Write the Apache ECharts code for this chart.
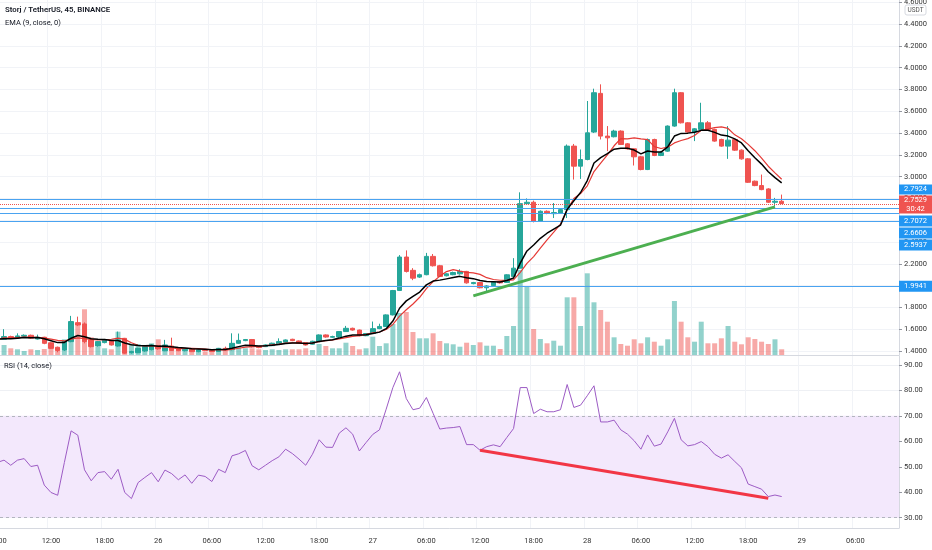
<!DOCTYPE html>
<html><head><meta charset="utf-8">
<script src="https://cdn.jsdelivr.net/npm/echarts@6/dist/echarts.min.js"></script>
<style>html,body{margin:0;padding:0;background:#fff}#c{width:932px;height:550px}</style>
</head><body><div id="c"></div>
<script>
// ---- data (45-minute candles, first candle = 25th 06:00) ----
const opens = [1.486,1.507,1.532,1.518,1.535,1.544,1.510,1.526,1.475,1.434,1.409,1.486,1.660,1.648,1.501,1.446,1.477,1.495,1.446,1.516,
1.384,1.384,1.400,1.412,1.450,1.402,1.445,1.424,1.403,1.415,1.394,1.410,1.405,1.395,1.424,1.412,1.470,1.495,1.505,1.440,
1.440,1.449,1.464,1.480,1.507,1.492,1.477,1.462,1.486,1.547,1.526,1.528,1.578,1.608,1.592,1.540,1.560,1.605,1.624,1.731,
1.955,2.262,2.140,2.078,2.100,2.268,2.182,2.090,2.100,2.108,2.130,2.018,2.028,1.980,2.000,2.035,2.029,2.084,2.160,2.752,
2.765,2.590,2.682,2.660,2.666,2.697,3.280,3.096,3.157,3.409,3.764,3.372,3.366,3.418,3.301,3.255,3.182,3.065,3.341,3.194,
3.234,3.464,3.770,3.494,3.409,3.433,3.494,3.433,3.341,3.280,3.341,3.243,3.163,2.958,2.918,2.887,2.765,2.774];
const closes = [1.507,1.532,1.516,1.538,1.544,1.518,1.526,1.470,1.424,1.405,1.486,1.670,1.639,1.486,1.440,1.486,1.501,1.455,1.501,1.380,
1.394,1.424,1.440,1.455,1.420,1.455,1.405,1.403,1.415,1.394,1.410,1.405,1.395,1.424,1.415,1.470,1.497,1.505,1.438,1.431,
1.455,1.471,1.486,1.501,1.495,1.471,1.455,1.489,1.547,1.528,1.532,1.578,1.608,1.592,1.540,1.560,1.605,1.625,1.731,1.955,
2.262,2.130,2.068,2.100,2.268,2.182,2.084,2.108,2.120,2.130,2.025,2.028,1.980,1.997,2.030,2.025,2.099,2.160,2.752,2.765,
2.590,2.682,2.666,2.670,2.697,3.280,3.096,3.157,3.402,3.770,3.372,3.356,3.418,3.295,3.255,3.182,3.065,3.341,3.194,3.220,
3.464,3.770,3.494,3.409,3.439,3.494,3.433,3.326,3.280,3.335,3.243,3.163,2.948,2.918,2.881,2.765,2.774,2.7529];
const lows = [1.480,1.505,1.510,1.515,1.530,1.512,1.505,1.462,1.418,1.388,1.400,1.480,1.628,1.470,1.432,1.440,1.470,1.450,1.440,1.375,
1.376,1.380,1.392,1.405,1.412,1.398,1.400,1.398,1.396,1.390,1.388,1.398,1.390,1.392,1.408,1.406,1.465,1.490,1.432,1.425,
1.436,1.445,1.460,1.476,1.490,1.466,1.450,1.458,1.482,1.522,1.520,1.524,1.574,1.586,1.535,1.536,1.556,1.600,1.620,1.726,
1.950,2.120,2.050,2.070,2.095,2.175,2.078,2.085,2.095,2.100,2.018,2.012,1.975,1.946,1.995,2.018,2.024,2.080,2.155,2.740,
2.580,2.585,2.655,2.620,2.660,2.620,2.973,2.979,3.150,3.400,3.341,3.234,3.360,3.290,3.248,3.102,3.058,3.060,3.188,3.188,
3.228,3.458,3.488,3.402,3.326,3.428,3.426,3.320,3.274,3.163,3.236,3.156,2.942,2.912,2.875,2.758,2.728,2.748];
const highs = [1.515,1.600,1.540,1.562,1.552,1.550,1.550,1.530,1.480,1.440,1.490,1.722,1.715,1.662,1.508,1.492,1.510,1.502,1.578,1.520,
1.402,1.430,1.446,1.460,1.455,1.502,1.522,1.428,1.420,1.418,1.414,1.416,1.410,1.428,1.440,1.562,1.560,1.510,1.510,1.445,
1.460,1.476,1.516,1.506,1.512,1.496,1.480,1.494,1.552,1.552,1.540,1.582,1.630,1.614,1.596,1.565,1.670,1.650,1.736,1.960,
2.280,2.323,2.160,2.110,2.300,2.290,2.190,2.115,2.128,2.150,2.135,2.034,2.034,2.004,2.036,2.040,2.104,2.252,2.856,2.800,
2.780,2.690,2.690,2.758,2.705,3.295,3.300,3.249,3.694,3.807,3.847,3.464,3.430,3.425,3.308,3.262,3.190,3.350,3.348,3.236,
3.470,3.807,3.776,3.500,3.446,3.678,3.510,3.440,3.348,3.464,3.348,3.250,3.170,2.964,3.019,2.894,2.805,2.835];
const volumes = [20.0,20.0,13.4,11.4,8.0,11.4,10.0,12.0,16.6,13.4,31.4,66.0,62.0,91.4,35.4,16.6,13.4,11.4,46.6,31.4,
22.0,22.0,20.0,23.4,31.4,20.0,16.6,11.4,8.0,7.0,8.0,7.0,9.0,10.0,10.0,23.4,16.6,13.4,13.4,11.4,
10.0,11.4,10.0,11.4,11.4,11.4,13.4,10.0,22.0,18.0,13.4,13.4,24.6,18.0,11.4,13.4,36.6,18.0,23.4,62.0,
84.0,86.0,46.0,33.4,33.4,43.4,28.0,23.4,21.4,16.6,24.6,20.0,25.4,18.6,18.6,12.0,38.0,58.0,170.0,136.0,
52.0,32.0,23.4,28.6,18.6,115.4,115.4,58.0,163.4,105.4,90.0,66.6,35.4,22.0,18.6,31.4,23.4,35.4,26.6,18.6,
31.4,108.0,66.6,35.4,26.6,66.6,23.4,23.4,33.4,58.0,26.6,21.4,35.4,32.0,26.6,22.0,31.4,11.4]; // thousand STORJ
const rsi = [51.7,52.6,50.6,52.6,53.2,50.1,50.6,42.8,39.9,38.8,51.7,64.1,62.4,48.8,44.5,47.7,48.1,45.1,49.0,39.9,
37.5,43.8,45.8,47.7,44.1,48.7,47.3,44.9,46.8,43.5,46.7,46.2,44.2,49.0,47.7,54.3,55.1,56.4,50.4,48.8,
50.6,52.4,53.9,56.9,55.2,53.0,50.6,54.9,60.6,57.7,57.6,63.2,65.3,62.8,56.2,59.5,62.7,64.5,72.6,81.1,
87.3,76.8,72.4,73.0,77.2,71.0,64.8,65.2,65.4,65.8,58.7,58.7,56.5,57.9,58.6,57.9,61.5,65.0,81.1,81.1,
70.9,72.6,71.6,71.6,72.4,82.3,73.3,74.2,77.9,81.8,67.6,67.6,68.3,64.5,62.8,60.2,56.9,62.5,58.1,58.9,
63.7,69.0,60.6,58.2,58.7,59.9,57.9,54.9,53.4,54.7,52.1,49.6,43.2,42.2,41.2,38.3,38.9,38.3];
const hLines = [2.7924, 2.7072, 2.6606, 2.5937, 1.9941];
const lastPrice = 2.7529;
const countdown = '30:42';
const priceTrend = [[71, 1.906], [116, 2.722]];
const rsiTrend = [[72, 56.5], [115, 37.6]];
const priceTicks = [1.4,1.6,1.8,2.0,2.2,2.4,2.6,2.8,3.0,3.2,3.4,3.6,3.8,4.0,4.2,4.4,4.6];
const rsiTicks = [30,40,50,60,70,80,90];
const emaLen = 9, smaLen = 9;
const slotCount = 135; // candles + empty future space
const startDay = 25, startMin = 6 * 60, stepMin = 45;

// ---- derived ----
const pad = n => (n < 10 ? '0' : '') + n;
const categories = [];
for (let i = 0; i < slotCount; i++) {
  const m = startMin + stepMin * i, d = startDay + Math.floor(m / 1440), mm = m % 1440;
  categories.push(mm === 0 ? String(d) : pad(Math.floor(mm / 60)) + ':' + pad(mm % 60));
}
const isTick = (idx) => ((startMin + stepMin * idx) % 360) === 0;
const candles = opens.map((o, i) => [o, closes[i], lows[i], highs[i]]);
const ema = []; const k = 2 / (emaLen + 1);
closes.forEach((c, i) => ema.push(i === 0 ? c : +(c * k + ema[i - 1] * (1 - k)).toFixed(4)));
const sma = closes.map((c, i) => { const s = closes.slice(Math.max(0, i - smaLen + 1), i + 1); return +(s.reduce((a, b) => a + b, 0) / s.length).toFixed(4); });
const UP = '#26a69a', DOWN = '#ef5350';
const volData = volumes.map((v, i) => ({ value: v, itemStyle: { color: closes[i] >= opens[i] ? 'rgba(38,166,154,0.5)' : 'rgba(239,83,80,0.5)' } }));

const chart = echarts.init(document.getElementById('c'));
const FONT = 'Roboto';
const option = {
  animation: false,
  backgroundColor: '#ffffff',
  textStyle: { fontFamily: FONT },
  grid: [
    { left: -6, right: 33, top: 0, height: 355, outerBoundsMode: 'none', containLabel: false },
    { left: -6, right: 33, top: 356, bottom: 22, outerBoundsMode: 'none', containLabel: false }
  ],
  xAxis: [
    { type: 'category', gridIndex: 0, data: categories, boundaryGap: true,
      axisLine: { show: true, lineStyle: { color: '#d6d9e0' } }, axisTick: { show: false }, axisLabel: { show: false },
      splitLine: { show: true, interval: isTick, lineStyle: { color: '#f1f3f7' } } },
    { type: 'category', gridIndex: 1, data: categories, boundaryGap: true,
      axisLine: { show: true, lineStyle: { color: '#d6d9e0' } }, axisTick: { show: false },
      axisLabel: { interval: isTick, color: '#333', fontSize: 7.5, margin: 9, fontFamily: FONT, hideOverlap: false },
      splitLine: { show: true, interval: isTick, lineStyle: { color: '#f1f3f7' } } }
  ],
  yAxis: [
    { type: 'value', gridIndex: 0, position: 'right', min: 1.363, max: 4.621, scale: true,
      axisLine: { show: true, lineStyle: { color: '#d6d9e0' } },
      axisTick: { show: true, length: 3, customValues: priceTicks, lineStyle: { color: '#9598a1' } },
      axisLabel: { customValues: priceTicks, formatter: v => v.toFixed(4), color: '#333', fontSize: 7.5, margin: 5, fontFamily: FONT },
      splitLine: { show: true, lineStyle: { color: '#f1f3f7' } } },
    { type: 'value', gridIndex: 0, min: 0, max: 710, show: false, splitLine: { show: false } },
    { type: 'value', gridIndex: 1, position: 'right', min: 25.95, max: 93.5,
      axisLine: { show: true, lineStyle: { color: '#d6d9e0' } },
      axisTick: { show: true, length: 3, customValues: rsiTicks, lineStyle: { color: '#9598a1' } },
      axisLabel: { customValues: rsiTicks, formatter: v => v.toFixed(2), color: '#333', fontSize: 7.5, margin: 5, fontFamily: FONT },
      splitLine: { show: true, lineStyle: { color: '#eef0f4' } } }
  ],
  series: [
    { type: 'bar', xAxisIndex: 0, yAxisIndex: 1, data: volData, barWidth: 5, z: 1, silent: true },
    { type: 'candlestick', xAxisIndex: 0, yAxisIndex: 0, data: candles, barWidth: 5, z: 3,
      itemStyle: { color: UP, color0: DOWN, borderColor: UP, borderColor0: DOWN, borderWidth: 1 },
      markLine: { silent: true, symbol: ['none', 'none'], label: { show: false }, animation: false,
        data: hLines.map(v => ({ yAxis: v, lineStyle: { color: '#4aa3f0', type: 'solid', width: 1 } }))
          .concat([{ yAxis: lastPrice, lineStyle: { color: '#ef5350', type: 'dotted', width: 1 } }]) } },
    { type: 'line', xAxisIndex: 0, yAxisIndex: 0, data: sma, showSymbol: false, symbol: 'none', z: 4,
      lineStyle: { color: '#e53935', width: 1.2 } },
    { type: 'line', xAxisIndex: 0, yAxisIndex: 0, data: ema, showSymbol: false, symbol: 'none', z: 5,
      lineStyle: { color: '#000000', width: 1.5 } },
    { type: 'line', xAxisIndex: 0, yAxisIndex: 0, data: priceTrend, showSymbol: false, symbol: 'none', z: 6,
      lineStyle: { color: '#4caf50', width: 3 } },
    { type: 'line', xAxisIndex: 1, yAxisIndex: 2, data: rsi, showSymbol: false, symbol: 'none', z: 5,
      lineStyle: { color: '#9c5bc4', width: 1 },
      markArea: { silent: true, itemStyle: { color: '#f3e8fc' }, data: [[{ yAxis: 70 }, { yAxis: 30 }]] },
      markLine: { silent: true, symbol: ['none', 'none'], label: { show: false },
        lineStyle: { color: '#b2b5be', type: [3, 3], width: 1 }, data: [{ yAxis: 70 }, { yAxis: 30 }] } },
    { type: 'line', xAxisIndex: 1, yAxisIndex: 2, data: rsiTrend, showSymbol: false, symbol: 'none', z: 6,
      lineStyle: { color: '#f23645', width: 3 } }
  ]
};
chart.setOption(option);

// ---- price-scale labels (TradingView style), positioned via the axis scale ----
const py = v => chart.convertToPixel({ yAxisIndex: 0 }, v);
const AX = 899, BW = 33;
const g = [];
function box(y, h, color, lines) {
  g.push({ type: 'rect', z: 100, shape: { x: AX, y: y, width: BW, height: h }, style: { fill: color } });
  lines.forEach((t, j) => g.push({ type: 'text', z: 101, x: AX + BW / 2, y: y + h / (lines.length * 2) * (2 * j + 1),
    style: { text: t, fill: '#fff', font: '7.5px ' + FONT, align: 'center', verticalAlign: 'middle' } }));
}
// current-price box anchored, other labels pushed away from it
const redTop = py(lastPrice) - 8, redH = 18;
box(redTop, redH, '#ef5350', [lastPrice.toFixed(4), countdown]);
const above = hLines.filter(v => v > lastPrice).sort((a, b) => a - b);
let limit = redTop - 1;
above.forEach(v => { const h = 10; let top = Math.min(py(v) - h / 2, limit - h); box(top, h, '#2196f3', [v.toFixed(4)]); limit = top - 1; });
const below = hLines.filter(v => v < lastPrice).sort((a, b) => b - a);
let next = redTop + redH + 2;
below.forEach(v => { const h = 11; let top = Math.max(py(v) - h / 2, next); box(top, h, '#2196f3', [v.toFixed(4)]); next = top + h + 1; });
// currency tag
g.push({ type: 'rect', z: 100, shape: { x: 905, y: 5, width: 21, height: 10, r: 2 }, style: { fill: '#fff', stroke: '#d6d9e0', lineWidth: 1 } });
g.push({ type: 'text', z: 101, x: 915.5, y: 10, style: { text: 'USDT', fill: '#555', font: '6.5px ' + FONT, align: 'center', verticalAlign: 'middle' } });
// legends
g.push({ type: 'text', z: 101, left: 5, top: 6, style: { text: 'Storj / TetherUS, 45, BINANCE', fill: '#131722', font: '600 7.8px ' + FONT } });
g.push({ type: 'text', z: 101, left: 5, top: 19, style: { text: 'EMA (9, close, 0)', fill: '#131722', font: '7.5px ' + FONT } });
g.push({ type: 'text', z: 101, left: 4, top: 362, style: { text: 'RSI (14, close)', fill: '#131722', font: '7.5px ' + FONT } });
chart.setOption({ graphic: g });
</script>
</body></html>
